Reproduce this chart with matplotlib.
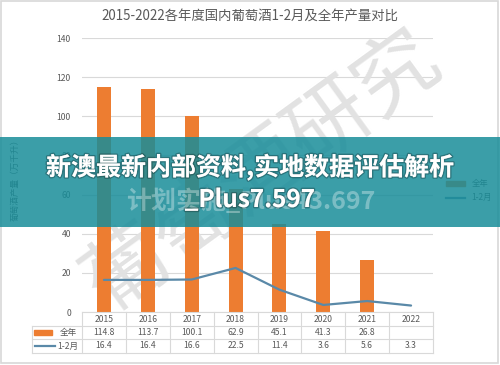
import numpy as np
import matplotlib
matplotlib.use('Agg')
import matplotlib.pyplot as plt
import matplotlib.transforms as mtransforms
import matplotlib.patheffects as pe
from matplotlib.patches import Rectangle
from matplotlib.lines import Line2D

plt.rcParams['font.family'] = ['Noto Sans CJK SC', 'DejaVu Sans']

# data
years = ['2015', '2016', '2017', '2018', '2019', '2020', '2021', '2022']
full_year = [114.8, 113.7, 100.1, 62.9, 45.1, 41.3, 26.8, None]
jan_feb = [16.4, 16.4, 16.6, 22.5, 11.4, 3.6, 5.6, 3.3]
series_names = ['全年', '1-2月']
y_ticks = [0, 20, 40, 60, 80, 100, 120, 140]

title = '2015-2022各年度国内葡萄酒1-2月及全年产量对比'
y_label = '葡萄酒产量（万千升）'
banner_line1 = '新澳最新内部资料,实地数据评估解析'
banner_line2 = '_Plus7.597'
banner_ghost = '计划实施_Plus43.697'
watermark = '葡萄酒研究'

ORANGE = '#ed7d31'
BLUE = '#5a89a8'
GRAY = '#595959'
GRID = '#d9d9d9'

W, H = 500, 365
fig = plt.figure(figsize=(W / 100, H / 100), dpi=100)
fig.patch.set_facecolor('white')

# pixel (from top-left) -> figure
pix = mtransforms.Affine2D().scale(1 / W, -1 / H).translate(0, 1) + fig.transFigure

ax = fig.add_axes([82 / W, 1 - 312 / H, 351 / W, 274 / H])
x = np.arange(len(years))
bar_vals = np.array([np.nan if v is None else v for v in full_year])

ax.bar(x, bar_vals, width=0.32, color=ORANGE, zorder=2)
ax.plot(x, jan_feb, color=BLUE, lw=1.6, zorder=3, solid_capstyle='round')

ax.set_xlim(-0.5, len(years) - 0.5)
ax.set_ylim(0, 140)
ax.set_yticks(y_ticks)
ax.set_yticklabels([str(t) for t in y_ticks], fontsize=6.2, color=GRAY)
ax.tick_params(axis='y', length=0, pad=8)
ax.set_xticks([])
ax.yaxis.grid(True, color=GRID, lw=0.8)
ax.set_axisbelow(True)
for s in ax.spines.values():
    s.set_visible(False)

# watermark behind the bars
ax.text(262, 172, watermark, transform=pix, fontsize=60, color='#e2e2e2',
        rotation=36, ha='center', va='center', zorder=1, clip_on=False)

fig.text(250, 16, title, transform=pix, fontsize=9.6, color=GRAY,
         ha='center', va='center')
fig.text(15, 178, y_label, transform=pix, fontsize=6.2, color=GRAY,
         rotation=90, ha='center', va='center')

# legend on the right
leg_handles = [Rectangle((0, 0), 1, 1, color=ORANGE),
               Line2D([0], [0], color=BLUE, lw=1.6)]
ax.legend(leg_handles, series_names, loc='upper left',
          bbox_to_anchor=(443 / W, 1 - 176 / H), bbox_transform=fig.transFigure,
          frameon=False, fontsize=6, handlelength=2.2, handleheight=0.6,
          labelcolor=GRAY, borderaxespad=0, labelspacing=0.6)

# data table under the axis
tt = mtransforms.blended_transform_factory(ax.transData, pix)
left_px = 32
row_px = [312, 326, 339, 353]
xl, xr = -0.5, len(years) - 0.5
ax.add_line(Line2D([xl, xr], [row_px[0]] * 2, transform=tt, color=GRID, lw=0.8, clip_on=False))
for yy in row_px[1:]:
    ax.add_line(Line2D([left_px, 433], [yy, yy], transform=pix, color=GRID, lw=0.8, clip_on=False))
for i in range(len(years) + 1):
    ax.add_line(Line2D([i - 0.5] * 2, [row_px[0], row_px[-1]], transform=tt,
                       color=GRID, lw=0.8, clip_on=False))
ax.add_line(Line2D([left_px] * 2, [row_px[1], row_px[-1]], transform=pix,
                   color=GRID, lw=0.8, clip_on=False))

for i, yr in enumerate(years):
    ax.text(i, 319, yr, transform=tt, fontsize=6.2, color=GRAY, ha='center', va='center')
    fv = full_year[i]
    ax.text(i, 332.5, '' if fv is None else f'{fv:.1f}', transform=tt, fontsize=6.2,
            color=GRAY, ha='center', va='center')
    ax.text(i, 346, f'{jan_feb[i]:.1f}', transform=tt, fontsize=6.2, color=GRAY,
            ha='center', va='center')

ax.add_patch(Rectangle((34, 330), 18, 5, transform=pix, color=ORANGE, clip_on=False))
ax.text(68, 332.5, series_names[0], transform=pix, fontsize=6.2, color=GRAY,
        ha='center', va='center')
ax.add_line(Line2D([35, 55], [346, 346], transform=pix, color=BLUE, lw=1.6, clip_on=False))
ax.text(68, 346, series_names[1], transform=pix, fontsize=6.2, color=GRAY,
        ha='center', va='center')

# outer frame
fig.patches.append(Rectangle((1, 1), W - 3, H - 3, transform=pix, fill=False,
                             edgecolor='#d8d8d8', lw=1.2, zorder=5))

# teal banner across the middle
fig.patches.append(Rectangle((0, 137), W, 90, transform=pix, facecolor=(24 / 255, 141 / 255, 153 / 255),
                             alpha=0.85, edgecolor='none', zorder=6))
fig.text(251, 201, banner_ghost, transform=pix, fontsize=18, color='white', alpha=0.33,
         fontweight='bold', ha='center', va='center', zorder=7)
shadow = [pe.withStroke(linewidth=2, foreground=(0, 0, 0, 0.25))]
fig.text(250, 167, banner_line1, transform=pix, fontsize=18, color='white',
         fontweight='bold', ha='center', va='center', zorder=8, path_effects=shadow)
fig.text(250, 200, banner_line2, transform=pix, fontsize=17.5, color='white',
         fontweight='bold', ha='center', va='center', zorder=8, path_effects=shadow)

fig.savefig('out.png', dpi=100)
